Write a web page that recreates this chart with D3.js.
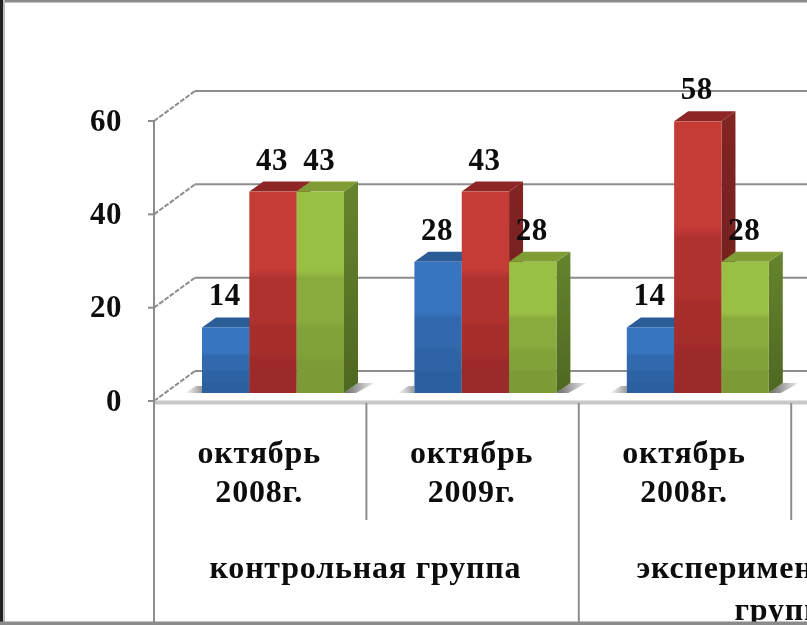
<!DOCTYPE html>
<html><head><meta charset="utf-8">
<script src="https://cdn.jsdelivr.net/npm/d3@7"></script>
<style>html,body{margin:0;padding:0;background:#fff;overflow:hidden}svg{display:block}
text{font-family:"Liberation Serif",serif;font-weight:bold;fill:#0a0a0a}</style></head><body>
<svg id="c" width="807" height="625"></svg>
<script>
const categories=["октябрь 2008г.","октябрь 2009г.","октябрь 2008г.","октябрь 2009г."];
const groups=["контрольная группа","экспериментальная группа"];
const seriesNames=["a","b","c"];
const blueValues=[14,28,14];
const redValues=[43,43,58];
const greenValues=[43,28,28];
const yTicks=[0,20,40,60];
const palette={a:["#3874c0","#2c609f","#2b5c98","#2f66ad"],b:["#c53a36","#9d2a29","#8f2725","#832523"],c:["#99c044","#7b9a35","#7f9c36","#66842d"]};
const series=[blueValues,redValues,greenValues];

const svg=d3.select("#c"),W=807,H=625;
const defs=svg.append("defs");
defs.append("filter").attr("id","soft").attr("x",0).attr("y",0).attr("width",1).attr("height",1)
  .append("feGaussianBlur").attr("stdDeviation",0.5);
const root=svg.append("g").attr("filter","url(#soft)");
root.append("rect").attr("width",W).attr("height",H).attr("fill","#fff");

// per-bar stepped vertical shading
seriesNames.forEach(s=>{
  const [t,b]=palette[s];
  const col=d3.interpolateRgb(t,b), edges=[0,.43,.68,.85,1], lv=[0,.55,.8,1];
  const g=defs.append("linearGradient").attr("id","g"+s).attr("x1",0).attr("x2",0).attr("y1",0).attr("y2",1);
  lv.forEach((v,i)=>{g.append("stop").attr("offset",edges[i]).attr("stop-color",col(v));g.append("stop").attr("offset",edges[i+1]-.04).attr("stop-color",col(v));});
  const sd=defs.append("linearGradient").attr("id","sd"+s).attr("x1",0).attr("x2",0).attr("y1",0).attr("y2",1);
  sd.append("stop").attr("offset",0).attr("stop-color",palette[s][3]);
  sd.append("stop").attr("offset",1).attr("stop-color",d3.rgb(palette[s][3]).darker(.7));
});
const sh=defs.append("linearGradient").attr("id","shR");
sh.append("stop").attr("offset",0).attr("stop-color","#666");sh.append("stop").attr("offset",1).attr("stop-color","#eee");
const shL=defs.append("linearGradient").attr("id","shL");
shL.append("stop").attr("offset",0).attr("stop-color","#fff");shL.append("stop").attr("offset",1).attr("stop-color","#999");

const axisX=154, gridColor="#8d8d8d";
const yFront=d3.scaleLinear().domain([0,60]).range([401,121]);
const yBar=d3.scaleLinear().domain([0,60]).range([393,112]);
const xGroup=d3.scaleBand().domain(d3.range(categories.length)).range([axisX,axisX+4*212.4]);
const xBar=d3.scaleBand().domain(seriesNames).range([48,190]);
const depthWall={x:41,y:-30}, depthBar={x:14,y:-10};

// frame
root.append("rect").attr("x",0).attr("y",0).attr("width",W).attr("height",2.5).attr("fill","#8b8b8b");
root.append("rect").attr("x",0).attr("y",0).attr("width",3).attr("height",H).attr("fill","#222");
root.append("rect").attr("x",3).attr("y",0).attr("width",2).attr("height",H).attr("fill","#bdbdbd");

// walls
yTicks.forEach(v=>{
  const y=yFront(v);
  root.append("line").attr("x1",axisX).attr("y1",y).attr("x2",axisX+depthWall.x).attr("y2",y+depthWall.y)
    .attr("stroke",gridColor).attr("stroke-width",2).attr("stroke-dasharray","5 1.5");
  root.append("line").attr("x1",axisX+depthWall.x).attr("y1",y+depthWall.y).attr("x2",W).attr("y2",y+depthWall.y)
    .attr("stroke",gridColor).attr("stroke-width",2);
  root.append("line").attr("x1",axisX-6).attr("y1",y).attr("x2",axisX).attr("y2",y).attr("stroke",gridColor).attr("stroke-width",2);
  root.append("text").attr("x",122).attr("y",y+9.5).attr("text-anchor","end").attr("font-size",31).attr("letter-spacing",0.5).text(v);
});

// floor front edge
root.append("rect").attr("x",axisX).attr("y",400.5).attr("width",W-axisX).attr("height",4).attr("fill","#c8c8c8");

// axes verticals
root.append("line").attr("x1",axisX).attr("y1",121).attr("x2",axisX).attr("y2",622).attr("stroke",gridColor).attr("stroke-width",2);
categories.forEach((c,i)=>{
  if(i===0) return;
  const x=xGroup(i);
  root.append("line").attr("x1",x).attr("x2",x).attr("y1",403).attr("y2",i%2?520:622).attr("stroke",gridColor).attr("stroke-width",2);
});

// bars
const yMin=yBar(0);
blueValues.forEach((_,i)=>{
  const gx=xGroup(i);
  const first=gx+xBar("a"), last=gx+xBar("c")+xBar.bandwidth();
  root.append("path").attr("d",`M${first-17},${yMin}L${first-6},${yMin-7}L${first},${yMin-7}L${first},${yMin}Z`).attr("fill","url(#shL)");
  root.append("path").attr("d",`M${last},${yMin}L${last+depthBar.x},${yMin+depthBar.y}L${last+30},${yMin+depthBar.y}L${last+12},${yMin}Z`).attr("fill","url(#shR)");
  seriesNames.forEach((s,k)=>{
    const v=series[k][i], x=gx+xBar(s), w=xBar.bandwidth(), y=yBar(v), d=depthBar;
    const p=palette[s];
    root.append("path").attr("d",`M${x+w},${y}L${x+w+d.x},${y+d.y}L${x+w+d.x},${yMin+d.y}L${x+w},${yMin}Z`).attr("fill",`url(#sd${s})`);
    root.append("path").attr("d",`M${x},${y}L${x+d.x},${y+d.y}L${x+w+d.x},${y+d.y}L${x+w},${y}Z`).attr("fill",p[2]);
    root.append("rect").attr("x",x).attr("y",y).attr("width",w).attr("height",yMin-y).attr("fill",`url(#g${s})`);
  });
  seriesNames.forEach((s,k)=>{
    const v=series[k][i];
    root.append("text").attr("x",gx+xBar(s)+xBar.bandwidth()/2-1).attr("y",yBar(v)-22)
      .attr("text-anchor","middle").attr("font-size",31).attr("letter-spacing",0.5).text(v);
  });
});

// category labels: the fourth lies past the right edge of the picture
function label(str,x,y,size,ls){
  root.append("text").attr("x",x).attr("y",y).attr("text-anchor","middle").attr("font-size",size).attr("letter-spacing",ls).text(str);
}
categories.slice(0,3).forEach((c,i)=>{
  const [a,b]=c.split(" ");
  const x=xGroup(i)+xGroup.bandwidth()/2-1;
  label(a,x,463,32,0.8); label(b,x,502,32,0.8);
});
label(groups[0],xGroup(0)+xGroup.bandwidth()-1,578,32,0.8);
const [e1,e2]=groups[1].split(" ");
label(e1,xGroup(2)+xGroup.bandwidth()-4,578,32,0.8);
label(e2,xGroup(2)+xGroup.bandwidth()-4,620,32,0.8);
root.append("rect").attr("x",0).attr("y",621.5).attr("width",W).attr("height",3.5).attr("fill","#8b8b8b");
</script></body></html>
